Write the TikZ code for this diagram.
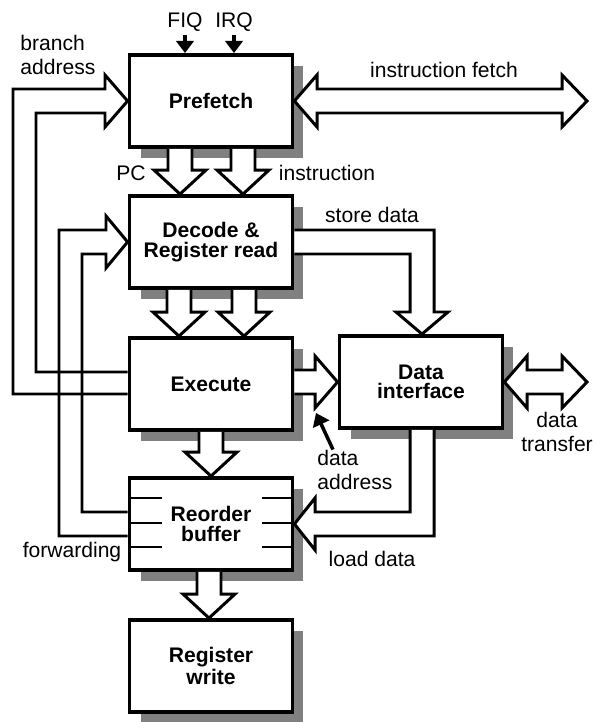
\documentclass[tikz,border=0pt]{standalone}
\usepackage{fontspec}
\setmainfont{Liberation Sans}
\usetikzlibrary{calc,shadows,arrows.meta}

\tikzset{
  stage/.style={draw, line width=2.2pt, fill=white, minimum width=3.26cm, minimum height=1.84cm,
    font=\fontsize{12}{11}\selectfont\bfseries, align=center,
    drop shadow={shadow xshift=.22cm, shadow yshift=-.22cm, fill=black!50, opacity=1}},
  fat/.style={draw, line width=1.7pt, fill=white, line join=miter},
  hollow/.style={draw, line width=1.7pt, line join=miter},
  lbl/.style={font=\fontsize{12}{14}\selectfont, align=center, inner sep=0pt},
  sig/.style={line width=2pt, -{Triangle[length=7pt,width=10pt]}},
  tick/.style={line width=1.7pt}
}

\newcommand\fatdown[3]{%
  \filldraw[fat] (#1-12,0 |- #2.south) -- ($(#1,0 |- #3.north)+(-12,-24)$) -- ++(-14,0)
    -- (#1,0 |- #3.north) -- ($(#1,0 |- #3.north)+(26,-24)$) -- ++(-14,0) -- (#1+12,0 |- #2.south);}

\begin{document}
\begin{tikzpicture}[x=0.02cm, y=-0.02cm]
\useasboundingbox (0,0) rectangle (595,722);

\node[stage] (pre) at (211,101) {Prefetch};
\node[stage] (dec) at (211,242) {Decode \&\\Register read};
\node[stage] (exe) at (211,384) {Execute};
\node[stage] (dif) at (421,382) {Data\\interface};
\node[stage] (rob) at (211,524) {Reorder\\buffer};
\node[stage] (rw) at (211,666) {Register\\write};

\foreach \dy in {-26,-1,23} {
  \draw[tick] ($(rob.west)+(0,\dy)$) -- ++(34,0);
  \draw[tick] ($(rob.east)+(0,\dy)$) -- ++(-32,0);
}

\fatdown{180}{pre}{dec}
\fatdown{243}{pre}{dec}
\fatdown{179}{dec}{exe}
\fatdown{244}{dec}{exe}
\fatdown{211}{exe}{rob}
\fatdown{209}{rob}{rw}

\coordinate (ifr) at (587,101);
\filldraw[fat] (pre.east) -- (317,75) -- (317,89) -- (562,89) -- (562,75) -- (ifr)
  -- (562,127) -- (562,113) -- (317,113) -- (317,127) -- cycle;

\coordinate (dtr) at (587,382);
\filldraw[fat] (dif.east) -- (527,356) -- (527,370) -- (562,370) -- (562,356) -- (dtr)
  -- (562,408) -- (562,394) -- (527,394) -- (527,408) -- cycle;

\filldraw[fat] (exe.east |- 0,370) -- (315,370) -- (315,356) -- (dif.west)
  -- (315,408) -- (315,394) -- (exe.east |- 0,394);

\filldraw[fat] (dec.east |- 0,230) -- (434,230) -- (434,312) -- (448,312) -- (422,0 |- dif.north)
  -- (396,312) -- (410,312) -- (410,254) -- (dec.east |- 0,254);

\filldraw[fat] (410,0 |- dif.south) -- (410,512) -- (315,512) -- (315,498) -- (rob.east)
  -- (315,550) -- (315,536) -- (434,536) -- (434,0 |- dif.south);

\draw[hollow] (exe.west |- 0,394) -- (13,394) -- (13,89) -- (105,89) -- (105,75) -- (pre.west)
  -- (105,127) -- (105,113) -- (36,113) -- (36,372) -- (exe.west |- 0,372);

\draw[hollow] (rob.west |- 0,536) -- (59,536) -- (59,230) -- (106,230) -- (106,216) -- (dec.west)
  -- (106,268) -- (106,254) -- (82,254) -- (82,512) -- (rob.west |- 0,512);

\node[lbl] (fiq) at (185,22) {FIQ};
\node[lbl] (irq) at (234,22) {IRQ};
\draw[sig] ([yshift=-2pt]fiq.south) -- (fiq.south |- pre.north);
\draw[sig] ([yshift=-2pt]irq.south) -- (irq.south |- pre.north);

\node[lbl, align=left, anchor=west] (bra) at (20,55) {branch\\address};
\node[lbl] (pc) at (131,173) {PC};
\node[lbl] (ins) at (327,173) {instruction};
\node[lbl] (ifl) at (444,70) {instruction fetch};
\node[lbl] (sdl) at (372,215) {store data};
\node[lbl] (dtl) at (557,432) {data\\transfer};
\node[lbl] (ldl) at (372,559) {load data};
\node[lbl] (fwd) at (72,552) {forwarding};

\node[lbl, align=left, anchor=west] (dadr) at (317,470) {data\\address};
\coordinate (dtip) at (316,413);
\draw[sig] (dadr.north -| 333,0) -- (dtip);
\end{tikzpicture}
\end{document}
